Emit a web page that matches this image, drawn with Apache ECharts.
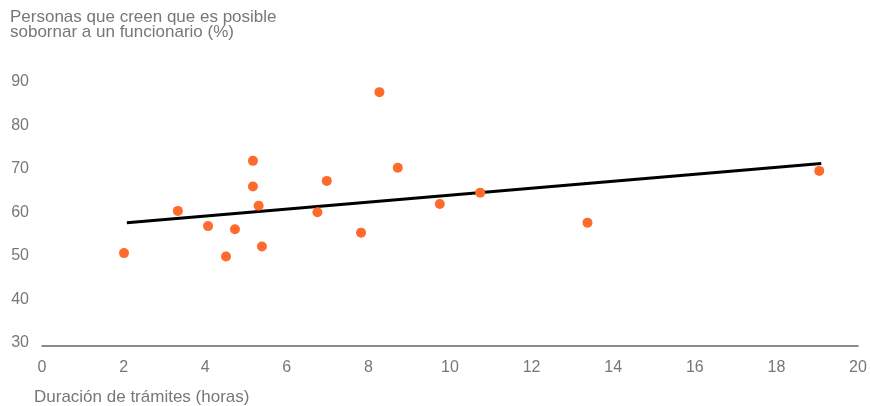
<!DOCTYPE html>
<html>
<head>
<meta charset="utf-8">
<script src="https://cdn.jsdelivr.net/npm/echarts@6/dist/echarts.min.js"></script>
<style>
html,body{margin:0;padding:0;background:#fff;}
#c{width:870px;height:406px;}
</style>
</head>
<body>
<div id="c"></div>
<script>
var hours = [2.01, 3.33, 4.07, 4.51, 4.73, 5.17, 5.17, 5.31, 5.39, 6.75, 6.98, 7.82, 8.27, 8.72, 9.75, 10.74, 13.37, 19.05];
var bribery = [50.6, 60.3, 56.8, 49.8, 56.1, 71.8, 65.9, 61.5, 52.1, 60.0, 67.2, 55.3, 87.6, 70.2, 61.9, 64.5, 57.6, 69.5];
var trendX = [2.08, 19.1];
var trendY = [57.6, 71.2];
var yTitleLines = ['Personas que creen que es posible', 'sobornar a un funcionario (%)'];
var xTitle = 'Duración de trámites (horas)';

var pts = hours.map(function (h, i) { return [h, bribery[i]]; });
var trend = trendX.map(function (x, i) { return [x, trendY[i]]; });

var chart = echarts.init(document.getElementById('c'));
var font = 'Liberation Sans, Arial, Helvetica, sans-serif';
chart.setOption({
  animation: false,
  textStyle: { fontFamily: font },
  graphic: [
    { type: 'text', style: { x: 10, y: 17, text: yTitleLines[0], fontSize: 17, fill: '#777', fontFamily: font, verticalAlign: 'middle' } },
    { type: 'text', style: { x: 10, y: 32, text: yTitleLines[1], fontSize: 17, fill: '#777', fontFamily: font, verticalAlign: 'middle' } },
    { type: 'text', style: { x: 34, y: 397, text: xTitle, fontSize: 17, fill: '#777', fontFamily: font, verticalAlign: 'middle' } }
  ],
  grid: { left: 42, right: 12, top: 81.7, bottom: 63.3 },
  xAxis: {
    type: 'value', min: 0, max: 20, interval: 2, offset: 3,
    axisLine: { show: true, lineStyle: { color: '#666', width: 1.5 } },
    axisTick: { show: false },
    splitLine: { show: false },
    axisLabel: { color: '#777', fontSize: 16, margin: 14, fontFamily: font }
  },
  yAxis: {
    type: 'value', min: 30, max: 90, interval: 10,
    axisLine: { show: false },
    axisTick: { show: false },
    splitLine: { show: false },
    axisLabel: { color: '#777', fontSize: 16, margin: 13, fontFamily: font }
  },
  series: [
    {
      type: 'line', data: trend, symbol: 'none', z: 2,
      lineStyle: { color: '#000', width: 3 }
    },
    {
      type: 'scatter', data: pts, symbolSize: 10, z: 3,
      itemStyle: { color: '#FF6B2C', opacity: 1 }
    }
  ]
});
</script>
</body>
</html>
